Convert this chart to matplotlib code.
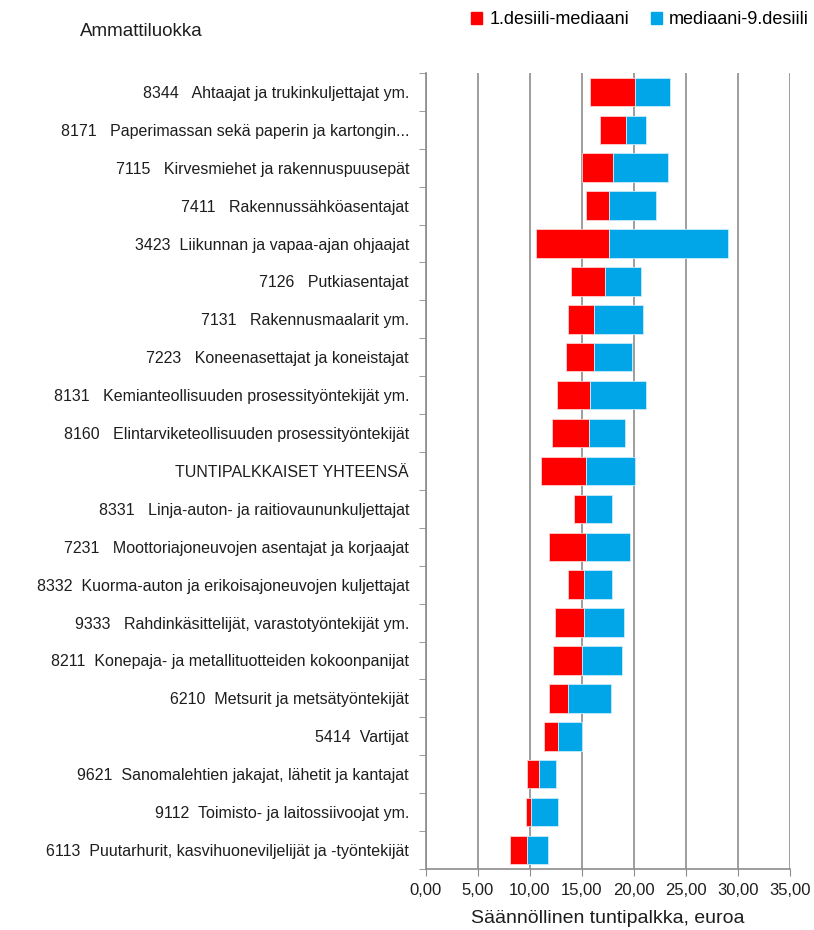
import numpy as np
import matplotlib.pyplot as plt
from matplotlib.patches import Patch
from matplotlib.ticker import FuncFormatter

plt.rcParams['font.family'] = ['Liberation Sans', 'DejaVu Sans']

# ammattiluokat ylhaalta alas
labels = [
    "8344   Ahtaajat ja trukinkuljettajat ym.",
    "8171   Paperimassan sekä paperin ja kartongin...",
    "7115   Kirvesmiehet ja rakennuspuusepät",
    "7411   Rakennussähköasentajat",
    "3423  Liikunnan ja vapaa-ajan ohjaajat",
    "7126   Putkiasentajat",
    "7131   Rakennusmaalarit ym.",
    "7223   Koneenasettajat ja koneistajat",
    "8131   Kemianteollisuuden prosessityöntekijät ym.",
    "8160   Elintarviketeollisuuden prosessityöntekijät",
    "TUNTIPALKKAISET YHTEENSÄ",
    "8331   Linja-auton- ja raitiovaununkuljettajat",
    "7231   Moottoriajoneuvojen asentajat ja korjaajat",
    "8332  Kuorma-auton ja erikoisajoneuvojen kuljettajat",
    "9333   Rahdinkäsittelijät, varastotyöntekijät ym.",
    "8211  Konepaja- ja metallituotteiden kokoonpanijat",
    "6210  Metsurit ja metsätyöntekijät",
    "5414  Vartijat",
    "9621  Sanomalehtien jakajat, lähetit ja kantajat",
    "9112  Toimisto- ja laitossiivoojat ym.",
    "6113  Puutarhurit, kasvihuoneviljelijät ja -työntekijät",
]

# 1. desiili, mediaani, 9. desiili (euroa / tunti)
desiili1 = [15.83, 16.73, 15.03, 15.38, 10.57, 13.97, 13.65, 13.52, 12.59, 12.14, 11.05,
            14.29, 11.82, 13.65, 12.43, 12.27, 11.82, 11.34, 9.79, 9.63, 8.09]
mediaani = [20.17, 19.24, 18.02, 17.66, 17.66, 17.21, 16.15, 16.15, 15.83, 15.67, 15.38,
            15.38, 15.38, 15.19, 15.19, 15.03, 13.65, 12.72, 10.89, 10.12, 9.79]
desiili9 = [23.54, 21.23, 23.35, 22.13, 29.06, 20.75, 20.91, 19.81, 21.23, 19.20, 20.13,
            17.95, 19.65, 17.95, 19.04, 18.91, 17.82, 15.03, 12.56, 12.72, 11.79]

d1 = np.array(desiili1)
md = np.array(mediaani)
d9 = np.array(desiili9)
y = np.arange(len(labels))

red = '#FF0000'
blue = '#00A6E8'
gray = '#8C8C8C'
txt = '#1E1E1E'

fig = plt.figure(figsize=(8.14, 9.30), dpi=100)
ax = fig.add_axes([0.523, 0.0656, 0.447, 0.856])

ax.barh(y, md - d1, left=d1, height=0.75, color=red, edgecolor='#FFD0D0', linewidth=0.6, zorder=3)
ax.barh(y, d9 - md, left=md, height=0.75, color=blue, edgecolor='#C8ECFA', linewidth=0.6, zorder=3)

ax.set_xlim(0, 35)
ax.set_ylim(len(labels) - 0.5, -0.5)
ax.set_xticks(np.arange(0, 36, 5))
ax.xaxis.set_major_formatter(FuncFormatter(lambda v, p: f"{v:.2f}".replace('.', ',')))
ax.grid(axis='x', color=gray, linewidth=1.2, zorder=0)

ax.set_yticks(y)
ax.set_yticklabels(labels, fontsize=11.5, color=txt)
ax.set_yticks(np.arange(-0.5, len(labels), 1), minor=True)
ax.tick_params(axis='y', which='major', length=0, pad=12)
ax.tick_params(axis='y', which='minor', length=5, color=gray, direction='out')
ax.tick_params(axis='x', length=5, color=gray, labelsize=12, labelcolor=txt, pad=5)

for s in ['top', 'right']:
    ax.spines[s].set_visible(False)
for s in ['left', 'bottom']:
    ax.spines[s].set_color(gray)
    ax.spines[s].set_linewidth(1.2)

ax.set_xlabel("Säännöllinen tuntipalkka, euroa", fontsize=14, color=txt, labelpad=9)

fig.text(80 / 814, 1 - 32 / 930, "Ammattiluokka", fontsize=13.5, color=txt, va='center')

handles = [Patch(color=red), Patch(color=blue)]
fig.legend(handles, ["1.desiili-mediaani", "mediaani-9.desiili"], loc='center',
           bbox_to_anchor=(640 / 814, 1 - 20 / 930), ncol=2, frameon=False, fontsize=13,
           handlelength=0.6, handleheight=0.6, handletextpad=0.4, columnspacing=1.2)

fig.savefig('out.png', dpi=100)
